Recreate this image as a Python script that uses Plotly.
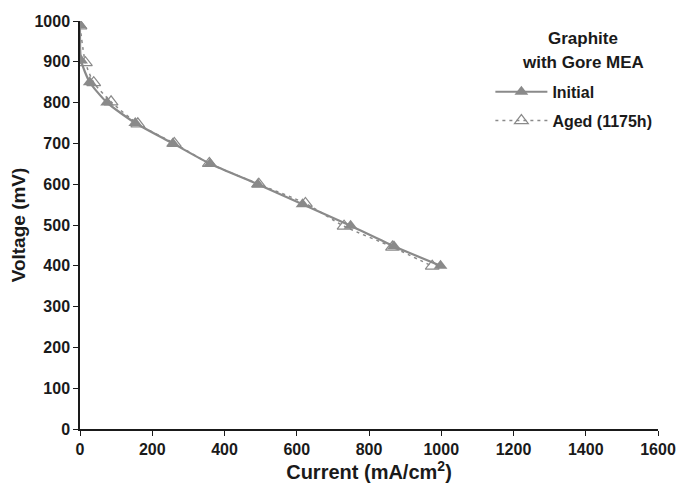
import plotly.graph_objects as go

init_x = [0, 3, 27, 75, 153, 257, 360, 492, 616, 749, 869, 998]
init_y = [990, 903, 850, 800, 750, 700, 650, 600, 551, 498, 448, 400]
aged_x = [0, 15, 38, 86, 160, 261, 358, 495, 624, 731, 865, 975]
aged_y = [988, 898, 849, 802, 748, 700, 651, 600, 553, 497, 446, 399]
legend_title = ["Graphite", "with Gore MEA"]

GRAY = "#8a8a8a"
INK = "#1a1a1a"
FONT = "Liberation Sans, Arial, sans-serif"

fig = go.Figure()
fig.add_trace(go.Scatter(
    x=init_x, y=init_y, name="<b>Initial</b>", mode="lines+markers", legendgroup="a",
    line=dict(color=GRAY, width=2.2, shape="spline", smoothing=0.6),
    marker=dict(symbol="triangle-up", size=12, color=GRAY, line=dict(width=0)),
))
fig.add_trace(go.Scatter(
    x=aged_x, y=aged_y, name="<b>Aged (1175h)</b>", mode="lines+markers", legendgroup="b",
    line=dict(color=GRAY, width=1.5, dash="3px,4px", shape="spline", smoothing=0.6),
    marker=dict(symbol="triangle-up-open", size=12, color=GRAY, line=dict(width=1.2, color=GRAY)),
))

for txt, yy in zip(legend_title, [0.958, 0.898]):
    fig.add_annotation(text="<b>%s</b>" % txt, x=0.87, y=yy, xref="paper", yref="paper",
                       xanchor="center", yanchor="middle", showarrow=False,
                       font=dict(size=17, family=FONT, color=INK))

fig.update_layout(
    width=681, height=492,
    margin=dict(l=80, r=23, t=21, b=63),
    paper_bgcolor="white", plot_bgcolor="white",
    font=dict(family=FONT, color=INK, size=16),
    showlegend=True,
    legend=dict(
        x=0.71, y=0.868, xanchor="left", yanchor="top",
        bgcolor="rgba(0,0,0,0)",
        font=dict(size=16, family=FONT, color=INK),
        traceorder="grouped", tracegroupgap=5, itemwidth=52,
    ),
    xaxis=dict(
        range=[0, 1600], dtick=200, tick0=0, automargin=False,
        showgrid=False, zeroline=False,
        showline=True, linecolor=INK, linewidth=1.5,
        ticks="outside", ticklen=5, tickcolor=INK, tickwidth=1.2,
        tickfont=dict(size=16, family=FONT), tickprefix="<b>", ticksuffix="</b>",
        title=dict(text="<b>Current (mA/cm<sup>2</sup>)</b>", font=dict(size=20, family=FONT), standoff=4),
    ),
    yaxis=dict(
        range=[0, 1000], dtick=100, tick0=0, automargin=False,
        showgrid=False, zeroline=False,
        showline=True, linecolor=INK, linewidth=1.5,
        ticks="outside", ticklen=5, tickcolor=INK, tickwidth=1.2,
        tickfont=dict(size=16, family=FONT), tickprefix="<b>", ticksuffix="</b>",
        title=dict(text="<b>Voltage (mV)</b>", font=dict(size=19, family=FONT), standoff=4),
    ),
)

fig.write_html("out.html")
